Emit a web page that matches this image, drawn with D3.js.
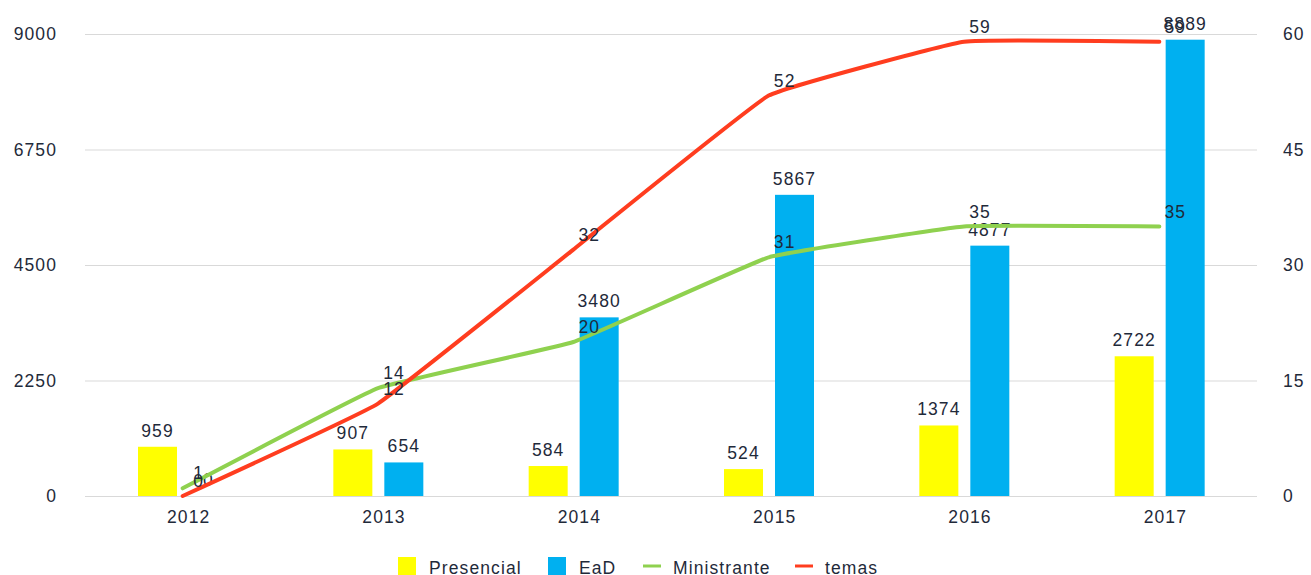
<!DOCTYPE html>
<html>
<head>
<meta charset="utf-8">
<script src="https://cdn.jsdelivr.net/npm/d3@7"></script>
<style>
  body { margin: 0; background: #fff; }
  text { font-family: "Liberation Sans", Arial, sans-serif; }
</style>
</head>
<body>
<div id="container"></div>
<script>
/* DATA */
const years = ["2012", "2013", "2014", "2015", "2016", "2017"];
const presencial = [959, 907, 584, 524, 1374, 2722];
const ead = [0, 654, 3480, 5867, 4877, 8889];
const ministrante = [1, 14, 20, 31, 35, 35];
const temas = [0, 12, 32, 52, 59, 59];
const leftTicks = [0, 2250, 4500, 6750, 9000];
const rightTicks = [0, 15, 30, 45, 60];

/* CONSTANTS */
const width = 1311, height = 575;
const margin = { top: 34, bottom: 79, left: 85, right: 54 };
const textColor = "#1f2a3a";
const fontSize = 17.5;
const spacing = 1.1;
const colors = { Presencial: "#ffff00", EaD: "#00b0f0", Ministrante: "#8fd14f", temas: "#ff3d1f" };

const svg = d3.select("#container")
  .append("svg")
  .attr("width", width)
  .attr("height", height);

// scales
const xScale = d3.scaleBand()
  .domain(years)
  .range([margin.left, width - margin.right]);

const x1 = d3.scaleBand()
  .domain(["Presencial", "EaD"])
  .range([53, 143])
  .paddingInner(0.235);

const yLeft = d3.scaleLinear()
  .domain([0, 9000])
  .range([height - margin.bottom, margin.top]);

const yRight = d3.scaleLinear()
  .domain([0, 60])
  .range([height - margin.bottom, margin.top]);

function label(sel) {
  sel.attr("font-size", fontSize)
    .attr("letter-spacing", spacing)
    .attr("fill", textColor);
}

// gridlines
svg.append("g")
  .selectAll("line")
  .data(leftTicks)
  .join("line")
  .attr("x1", margin.left)
  .attr("x2", width - margin.right)
  .attr("y1", d => yLeft(d) + 0.5)
  .attr("y2", d => yLeft(d) + 0.5)
  .attr("stroke", "#d9d9d9")
  .attr("stroke-width", 1);

// left axis labels
svg.append("g")
  .selectAll("text")
  .data(leftTicks)
  .join("text")
  .attr("x", 57)
  .attr("y", d => yLeft(d) + 6)
  .attr("text-anchor", "end")
  .call(label)
  .text(d => d);

// right axis labels
svg.append("g")
  .selectAll("text")
  .data(rightTicks)
  .join("text")
  .attr("x", 1283)
  .attr("y", d => yRight(d) + 6)
  .call(label)
  .text(d => d);

// x axis labels
svg.append("g")
  .selectAll("text")
  .data(years)
  .join("text")
  .attr("x", d => xScale(d) + xScale.bandwidth() / 2 + 6)
  .attr("y", 523)
  .attr("text-anchor", "middle")
  .call(label)
  .text(d => d);

// bars
const barData = years.flatMap((y, i) => [
  { year: y, key: "Presencial", value: presencial[i] },
  { year: y, key: "EaD", value: ead[i] }
]);

svg.append("g")
  .selectAll("rect")
  .data(barData)
  .join("rect")
  .attr("x", d => xScale(d.year) + x1(d.key))
  .attr("y", d => yLeft(d.value))
  .attr("width", x1.bandwidth())
  .attr("height", d => yLeft(0) - yLeft(d.value))
  .attr("fill", d => colors[d.key]);

svg.append("g")
  .selectAll("text")
  .data(barData)
  .join("text")
  .attr("x", d => xScale(d.year) + x1(d.key) + x1.bandwidth() / 2)
  .attr("y", d => yLeft(d.value) - 10)
  .attr("text-anchor", "middle")
  .call(label)
  .text(d => d.value);

// lines
const cx = d => xScale(d) + xScale.bandwidth() / 2;
const lineSeries = [
  { key: "Ministrante", values: ministrante },
  { key: "temas", values: temas }
];

const line = d3.line()
  .x((d, i) => cx(years[i]))
  .y(d => yRight(d))
  .curve(d3.curveCardinal.tension(0.75));

svg.append("g")
  .selectAll("path")
  .data(lineSeries)
  .join("path")
  .attr("d", d => line(d.values))
  .attr("fill", "none")
  .attr("stroke", d => colors[d.key])
  .attr("stroke-width", 4)
  .attr("stroke-linejoin", "round")
  .attr("stroke-linecap", "round");

lineSeries.forEach(s => {
  svg.append("g")
    .selectAll("text")
    .data(s.values)
    .join("text")
    .attr("x", (d, i) => cx(years[i]) + 16)
    .attr("y", d => yRight(d) - 9)
    .attr("text-anchor", "middle")
    .call(label)
    .text(d => d);
});

// legend
const legend = [
  { key: "Presencial", type: "rect", x: 398 },
  { key: "EaD", type: "rect", x: 548 },
  { key: "Ministrante", type: "line", x: 643 },
  { key: "temas", type: "line", x: 795 }
];

const lg = svg.append("g")
  .selectAll("g")
  .data(legend)
  .join("g")
  .attr("transform", d => `translate(${d.x}, 0)`);

lg.filter(d => d.type === "rect")
  .append("rect")
  .attr("y", 557)
  .attr("width", 18)
  .attr("height", 18)
  .attr("fill", d => colors[d.key]);

lg.filter(d => d.type === "line")
  .append("line")
  .attr("x1", 0)
  .attr("x2", 18)
  .attr("y1", 566)
  .attr("y2", 566)
  .attr("stroke", d => colors[d.key])
  .attr("stroke-width", 3);

lg.append("text")
  .attr("x", d => d.type === "rect" ? 31 : 30)
  .attr("y", 574)
  .call(label)
  .text(d => d.key);
</script>
</body>
</html>
